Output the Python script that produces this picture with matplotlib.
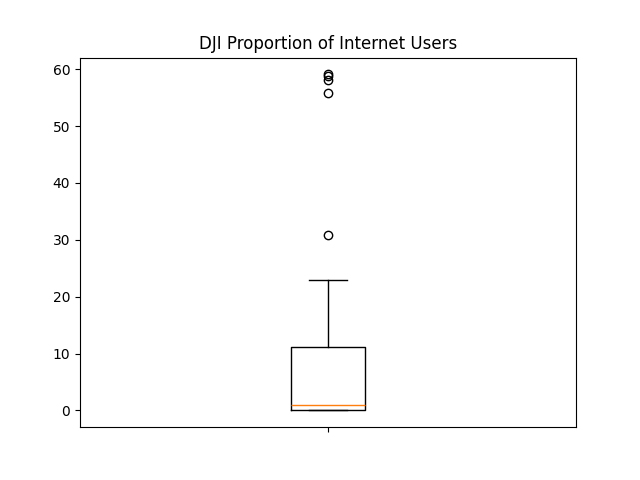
import matplotlib
matplotlib.use("Agg")
import matplotlib.pyplot as plt

# estimated share of internet users per country (percent)
PROPORTION = [
    0.0, 0.0, 0.0, 0.0, 0.0, 0.0, 0.0, 0.0, 0.1, 0.2, 0.4, 0.6,
    0.9, 1.8, 3.2, 5.0, 7.1, 9.4, 11.1, 22.9,
    30.8, 55.8, 58.1, 58.8, 59.1,
]


def main():
    fig, ax = plt.subplots()
    ax.boxplot(PROPORTION)
    ax.set_title("DJI Proportion of Internet Users")
    ax.set_xticklabels([""])
    fig.savefig("out.png")


if __name__ == "__main__":
    main()
